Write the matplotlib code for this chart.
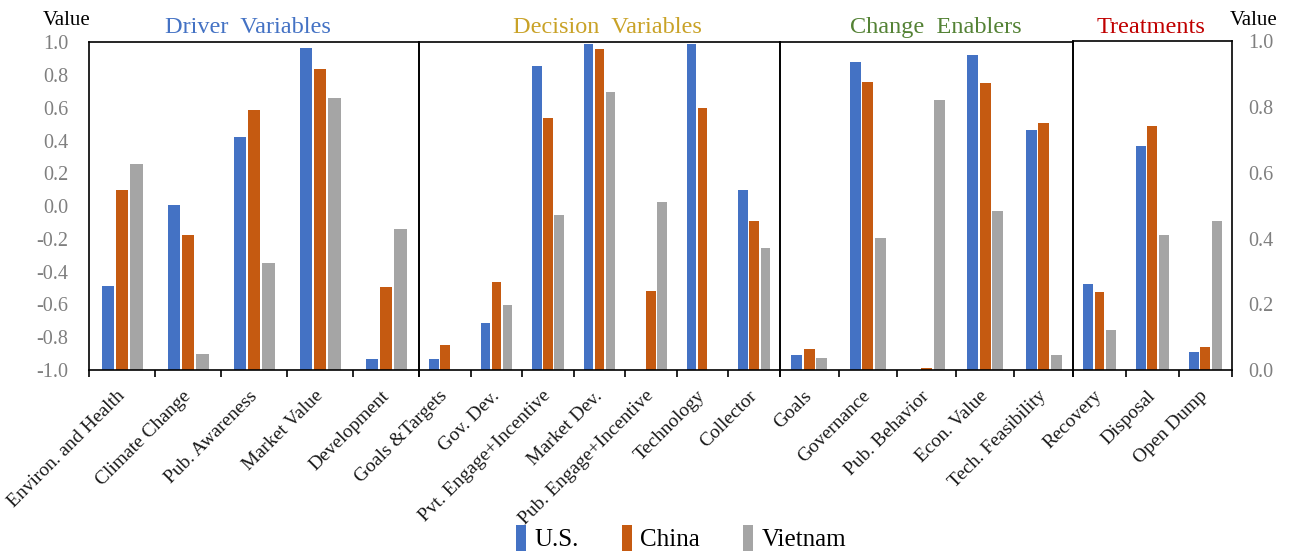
import numpy as np
import matplotlib
matplotlib.use('Agg')
from matplotlib import pyplot as plt
from matplotlib.patches import Patch

plt.rcParams['font.family'] = ['Liberation Serif', 'DejaVu Serif']

nan = np.nan

# 驱动变量
driver_labels = ['Environ. and Health', 'Climate Change', 'Pub. Awareness', 'Market Value', 'Development']
driver_us = [-0.485, 0.005, 0.424, 0.963, -0.931]
driver_cn = [0.10, -0.176, 0.585, 0.837, -0.493]
driver_vn = [0.259, -0.902, -0.347, 0.660, -0.137]

# 决策变量
decision_labels = ['Goals &Targets', 'Gov. Dev.', 'Pvt. Engage+Incentive', 'Market Dev.',
                   'Pub. Engage+Incentive', 'Technology', 'Collector']
decision_us = [-0.935, -0.715, 0.853, 0.992, nan, 0.992, 0.099]
decision_cn = [-0.847, -0.463, 0.540, 0.959, -0.518, 0.601, -0.091]
decision_vn = [nan, -0.603, -0.054, 0.695, 0.023, nan, -0.257]

# 变化推动因素
enabler_labels = ['Goals', 'Governance', 'Pub. Behavior', 'Econ. Value', 'Tech. Feasibility']
enabler_us = [-0.908, 0.880, nan, 0.921, 0.467]
enabler_cn = [-0.870, 0.760, -0.990, 0.750, 0.506]
enabler_vn = [-0.925, -0.192, 0.650, -0.032, -0.908]

# 处理方式 (右轴 0~1)
treat_labels = ['Recovery', 'Disposal', 'Open Dump']
treat_us = [0.263, 0.682, 0.055]
treat_cn = [0.238, 0.742, 0.070]
treat_vn = [0.123, 0.412, 0.454]

countries = ['U.S.', 'China', 'Vietnam']
colors = ['#4472C4', '#C55A11', '#A5A5A5']

W, H = 1289, 557
fig = plt.figure(figsize=(W / 100, H / 100), dpi=100)


def px_axes(x0, x1, y_top, y_bot=370):
    # 按像素位置放置子图
    return fig.add_axes([x0 / W, (H - y_bot) / H, (x1 - x0) / W, (y_bot - y_top) / H])


def fmt(v):
    # 避免出现 -0.0
    return '%.1f' % (round(v, 1) + 0.0)


def draw_group(ax, labels, series, ymin, ymax):
    n = len(labels)
    x = np.arange(n)
    for k, (vals, c) in enumerate(zip(series, colors)):
        vals = np.array(vals, dtype=float)
        ok = ~np.isnan(vals)
        ax.bar(x[ok] + (k - 1) * 0.215, vals[ok] - ymin, width=0.185, bottom=ymin,
               color=c, linewidth=0)
    ax.set_xlim(-0.5, n - 0.5)
    ax.set_ylim(ymin, ymax)
    ax.set_xticks(x)
    ax.set_xticklabels(labels, rotation=45, ha='right', va='center',
                       rotation_mode='anchor', fontsize=14, color='#1a1a1a')
    ax.set_xticks(np.arange(n + 1) - 0.5, minor=True)
    ax.tick_params(axis='x', which='major', length=0, pad=17)
    ax.tick_params(axis='x', which='minor', length=5, width=1.2, direction='out')
    ax.tick_params(axis='y', length=0)
    for s in ax.spines.values():
        s.set_linewidth(1.2)
        s.set_color('black')
    ax.patch.set_alpha(0)


ax1 = px_axes(89.3, 419.3, 42.3)
draw_group(ax1, driver_labels, [driver_us, driver_cn, driver_vn], -1, 1)
left_ticks = np.linspace(-1, 1, 11)
ax1.set_yticks(left_ticks)
ax1.set_yticklabels([fmt(v) for v in left_ticks], fontsize=14.5, color='#7f7f7f')
ax1.tick_params(axis='y', pad=15)

ax2 = px_axes(419.3, 780, 42.3)
draw_group(ax2, decision_labels, [decision_us, decision_cn, decision_vn], -1, 1)
ax2.set_yticks([])

ax3 = px_axes(780, 1073, 42.3)
draw_group(ax3, enabler_labels, [enabler_us, enabler_cn, enabler_vn], -1, 1)
ax3.set_yticks([])

ax4 = px_axes(1073, 1231.7, 41.3)
draw_group(ax4, treat_labels, [treat_us, treat_cn, treat_vn], 0, 1)
ax4.yaxis.tick_right()
right_ticks = np.linspace(0, 1, 6)
ax4.set_yticks(right_ticks)
ax4.set_yticklabels([fmt(v) for v in right_ticks], fontsize=14.5, color='#7f7f7f')
ax4.tick_params(axis='y', pad=12, length=0)

# 分组标题
titles = [('Driver  Variables', 247.5, '#4472C4'),
          ('Decision  Variables', 607.5, '#C9A227'),
          ('Change  Enablers', 936, '#548235'),
          ('Treatments', 1151, '#C00000')]
for t, xc, c in titles:
    fig.text(xc / W, (H - 33) / H, t, ha='center', va='baseline', fontsize=17.5, color=c)

fig.text(43 / W, (H - 25) / H, 'Value', ha='left', va='baseline', fontsize=15, color='black')
fig.text(1230 / W, (H - 25) / H, 'Value', ha='left', va='baseline', fontsize=15, color='black')

handles = [Patch(facecolor=c, edgecolor='none') for c in colors]
fig.legend(handles, countries, loc='center', bbox_to_anchor=(681 / W, (H - 538) / H),
           ncol=3, frameon=False, fontsize=18, handlelength=0.4, handleheight=1.2,
           handletextpad=0.35, columnspacing=1.7)

fig.savefig('out.png', dpi=100)
